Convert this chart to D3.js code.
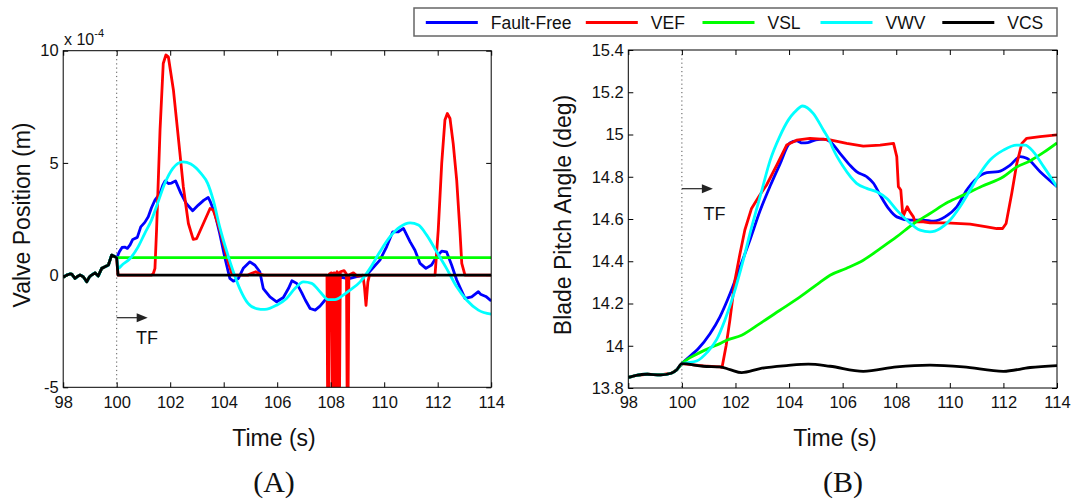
<!DOCTYPE html>
<html><head><meta charset="utf-8">
<script src="https://cdn.jsdelivr.net/npm/d3@7"></script>
<style>
body{margin:0;background:#fff}
text{font-family:"Liberation Sans",Arial,Helvetica,sans-serif;fill:#111}
</style>
</head><body>
<svg id="chart" width="1073" height="500"></svg>
<script>
// ---------------- data ----------------
const seriesNames  = ["Fault-Free","VEF","VSL","VWV","VCS"];
const seriesColors = ["#0000ff","#ff0000","#00ff00","#00ffff","#000000"];
const timeTicks    = [98,100,102,104,106,108,110,112,114];
const valveTicks   = [-5,0,5,10];
const pitchTicks   = [13.8,14,14.2,14.4,14.6,14.8,15,15.2,15.4];
const pitchTickLabels = ["13.8","14","14.2","14.4","14.6","14.8","15","15.2","15.4"];
const faultTime = 100;

// Valve position (x 1e-4 m), shared pre-fault segment
const valvePre = [[98.0,-0.1],[98.13,0.0],[98.25,0.05],[98.32,0.04],[98.44,-0.15],[98.55,-0.05],[98.63,0.0],[98.75,-0.07],[98.88,-0.3],[98.97,-0.1],[99.06,0.0],[99.19,0.1],[99.31,-0.04],[99.44,0.3],[99.56,0.37],[99.69,0.45],[99.81,0.89],[99.94,0.82],[100.0,0.76]];
const valveFaultFree = [[100.02,0.82],[100.1,1.04],[100.2,1.23],[100.3,1.25],[100.4,1.19],[100.5,1.35],[100.6,1.59],[100.77,1.68],[100.9,2.15],[101.05,2.35],[101.18,2.6],[101.3,3.0],[101.43,3.34],[101.62,3.64],[101.72,4.0],[101.81,4.2],[101.93,4.08],[102.05,4.1],[102.2,4.2],[102.4,3.64],[102.6,3.19],[102.84,2.87],[103.05,3.12],[103.26,3.34],[103.42,3.46],[103.49,3.3],[103.67,2.75],[103.85,1.86],[104.05,0.74],[104.23,-0.15],[104.36,-0.27],[104.55,-0.15],[104.73,0.3],[104.98,0.59],[105.17,0.44],[105.35,0.15],[105.48,-0.6],[105.73,-0.97],[105.98,-1.19],[106.23,-1.0],[106.42,-0.6],[106.55,-0.25],[106.73,-0.37],[106.92,-0.79],[107.05,-1.11],[107.23,-1.49],[107.42,-1.56],[107.6,-1.38],[107.79,-1.11],[108.04,-0.67],[108.23,-0.22],[108.41,-0.1],[108.6,-0.15],[108.72,-0.15],[108.97,-0.07],[109.34,0.0],[109.59,0.34],[109.84,0.67],[110.09,1.26],[110.32,1.93],[110.53,1.93],[110.72,2.08],[110.97,1.48],[111.15,1.11],[111.34,0.52],[111.56,0.3],[111.77,0.45],[111.96,0.82],[112.15,1.07],[112.33,1.04],[112.52,0.45],[112.71,-0.22],[113.02,-1.04],[113.27,-0.97],[113.52,-0.74],[113.6,-0.85],[113.8,-0.95],[114.0,-1.15]];
const valveVEF = [[100.05,0],[101.3,0],[101.37,0.07],[101.43,0.3],[101.49,2.0],[101.62,6.46],[101.74,9.43],[101.84,9.81],[101.93,9.73],[102.12,8.25],[102.3,6.17],[102.49,3.94],[102.68,2.3],[102.86,1.59],[102.99,1.63],[103.24,2.3],[103.49,2.97],[103.61,2.9],[103.86,2.0],[104.11,0.82],[104.3,0.07],[104.4,0],[104.9,0],[105.05,0.08],[105.2,0.15],[105.35,0.05],[105.5,0],[107.86,0],[107.9,-9],[107.95,0.05],[108.03,0.1],[108.07,-9],[108.12,0.1],[108.15,0.1],[108.19,-9],[108.24,0.15],[108.27,0.1],[108.31,-9],[108.36,0.15],[108.5,0.2],[108.59,0.05],[108.63,-9],[108.68,0],[108.85,0.1],[109.0,-0.05],[109.2,0],[109.26,-0.5],[109.32,-1.35],[109.39,-0.3],[109.45,0],[111.9,0],[112.02,2.0],[112.15,4.98],[112.27,6.91],[112.36,7.2],[112.46,6.98],[112.58,5.86],[112.71,4.23],[112.83,2.0],[112.9,0.52],[113.02,0],[114,0]];
const valveVSL = [[100.02,0.78],[114,0.78]];
const valveVWV = [[100.07,0.3],[100.2,0.45],[100.5,0.74],[100.8,1.26],[101.05,1.86],[101.3,2.45],[101.55,3.27],[101.8,4.09],[102.1,4.76],[102.47,5.05],[102.77,4.95],[103.15,4.53],[103.4,4.09],[103.61,3.34],[103.85,2.15],[104.1,1.11],[104.36,0.15],[104.6,-0.6],[104.91,-1.26],[105.22,-1.49],[105.54,-1.53],[105.98,-1.34],[106.35,-1.04],[106.66,-0.6],[106.98,-0.3],[107.29,-0.37],[107.6,-0.74],[107.91,-1.09],[108.16,-1.09],[108.47,-0.89],[108.72,-0.67],[109.1,-0.3],[109.47,0.3],[109.84,1.04],[110.22,1.71],[110.59,2.15],[110.97,2.33],[111.28,2.23],[111.59,1.78],[111.96,1.04],[112.33,0.3],[112.71,-0.52],[113.08,-1.11],[113.52,-1.56],[114,-1.74]];
const valveVCS = [[100.05,0],[114,0]];

// Blade pitch angle (deg), shared pre-fault segment
const pitchPre = [[98,13.85],[98.15,13.855],[98.3,13.86],[98.7,13.865],[99.2,13.862],[99.6,13.87],[99.8,13.885],[100,13.915]];
const pitchFaultFree = [[100.3,13.95],[100.6,13.985],[101.05,14.057],[101.42,14.137],[101.8,14.247],[102.17,14.373],[102.54,14.5],[102.92,14.64],[103.29,14.755],[103.66,14.86],[104.03,14.96],[104.28,14.97],[104.5,14.96],[104.7,14.962],[105.0,14.975],[105.3,14.978],[105.53,14.966],[105.9,14.911],[106.27,14.855],[106.52,14.824],[106.9,14.8],[107.15,14.769],[107.4,14.713],[107.71,14.65],[108.02,14.61],[108.52,14.595],[109.01,14.595],[109.39,14.59],[109.82,14.61],[110.26,14.658],[110.63,14.737],[111.0,14.792],[111.38,14.819],[111.81,14.824],[112.25,14.855],[112.63,14.895],[112.87,14.887],[113.37,14.824],[114,14.753]];
const pitchVEF = [[100.8,13.905],[101.42,13.9],[101.5,13.898],[101.65,14.0],[101.79,14.12],[101.98,14.31],[102.17,14.437],[102.35,14.548],[102.6,14.65],[102.91,14.714],[103.16,14.761],[103.54,14.855],[103.91,14.95],[104.28,14.973],[104.78,14.982],[105.2,14.978],[105.53,14.974],[106.15,14.958],[106.77,14.945],[107.4,14.95],[107.9,14.958],[108.02,14.895],[108.08,14.753],[108.17,14.737],[108.25,14.61],[108.33,14.634],[108.41,14.658],[108.51,14.634],[108.64,14.61],[108.7,14.587],[109.01,14.587],[109.26,14.582],[109.88,14.582],[110.76,14.576],[111.38,14.563],[111.75,14.555],[111.97,14.555],[112.1,14.579],[112.31,14.721],[112.5,14.863],[112.69,14.958],[112.87,14.982],[113.37,14.99],[114,14.998]];
const pitchVSL = [[100.55,13.96],[101.05,13.99],[101.42,14.01],[101.67,14.026],[102.23,14.05],[102.91,14.105],[103.66,14.168],[104.41,14.231],[105.15,14.3],[105.53,14.334],[106.13,14.366],[106.77,14.405],[107.4,14.46],[108.01,14.515],[108.67,14.58],[109.26,14.626],[109.94,14.68],[110.5,14.713],[111.2,14.755],[112.0,14.8],[112.48,14.845],[112.99,14.875],[113.5,14.915],[114,14.96]];
const pitchVWV = [[100.18,13.919],[100.55,13.928],[100.95,13.97],[101.3,14.03],[101.6,14.12],[101.95,14.25],[102.3,14.41],[102.6,14.56],[102.95,14.72],[103.3,14.88],[103.65,14.99],[103.97,15.068],[104.2,15.105],[104.51,15.135],[104.9,15.1],[105.28,15.021],[105.53,14.966],[105.65,14.93],[106.02,14.848],[106.52,14.769],[106.9,14.745],[107.27,14.729],[107.65,14.697],[108.02,14.642],[108.39,14.595],[108.89,14.547],[109.26,14.539],[109.64,14.555],[110.01,14.595],[110.38,14.658],[110.76,14.737],[111.13,14.816],[111.5,14.879],[112.0,14.926],[112.49,14.95],[112.81,14.95],[113.12,14.918],[113.5,14.848],[114,14.753]];
const pitchVCS = [[100.8,13.903],[101.42,13.9],[101.8,13.887],[102.23,13.873],[102.92,13.892],[103.91,13.906],[104.72,13.913],[105.53,13.903],[106.77,13.879],[108.02,13.9],[109.26,13.908],[110.5,13.9],[112.0,13.879],[113.0,13.897],[114,13.906]];

// ---------------- drawing ----------------
const svg = d3.select("#chart");
svg.append("rect").attr("width",1073).attr("height",500).attr("fill","#fff");

function panel(cfg){
  const x = d3.scaleLinear().domain([98,114]).range([cfg.x0,cfg.x1]);
  const y = d3.scaleLinear().domain(cfg.yDomain).range([cfg.y0,cfg.y1]);
  const g = svg.append("g");
  const clipId = "clip"+cfg.id;
  svg.append("defs").append("clipPath").attr("id",clipId)
    .append("rect").attr("x",cfg.x0).attr("y",cfg.y1).attr("width",cfg.x1-cfg.x0).attr("height",cfg.y0-cfg.y1);

  // fault time dotted line
  g.append("line").attr("x1",x(faultTime)).attr("x2",x(faultTime))
    .attr("y1",cfg.y1).attr("y2",cfg.y0)
    .attr("stroke","#555").attr("stroke-width",1).attr("stroke-dasharray","1.2,3");

  // series
  const lines = g.append("g").attr("clip-path",`url(#${clipId})`);
  cfg.series.forEach((s,i)=>{
    const gen = d3.line().x(d=>x(d[0])).y(d=>y(d[1]))
      .curve(cfg.smooth[i] ? d3.curveMonotoneX : d3.curveLinear);
    lines.append("path").datum(cfg.pre.concat(s))
      .attr("fill","none").attr("stroke",seriesColors[i])
      .attr("stroke-width",2.8).attr("stroke-linejoin","round")
      .attr("d",gen);
  });

  // axes
  const fs = "16.5px";
  const bx = g.append("g").attr("transform",`translate(0,${cfg.y0})`)
    .call(d3.axisBottom(x).tickValues(timeTicks).tickSize(-5).tickPadding(8.5).tickFormat(d3.format("d")));
  const tx = g.append("g").attr("transform",`translate(0,${cfg.y1})`)
    .call(d3.axisTop(x).tickValues(timeTicks).tickSize(-5).tickFormat(""));
  const ly = g.append("g").attr("transform",`translate(${cfg.x0},0)`)
    .call(d3.axisLeft(y).tickValues(cfg.yTicks).tickSize(-5).tickPadding(4.5).tickFormat((d,i)=>cfg.yLabels[i]));
  const ry = g.append("g").attr("transform",`translate(${cfg.x1},0)`)
    .call(d3.axisRight(y).tickValues(cfg.yTicks).tickSize(-5).tickFormat(""));
  [bx,tx,ly,ry].forEach(a=>{
    a.select(".domain").remove();
    a.selectAll("line").attr("stroke","#000");
    a.selectAll("text").attr("font-size",fs).attr("fill","#000")
      .attr("font-family",'"Liberation Sans",Arial,sans-serif');
  });
  g.append("rect").attr("x",cfg.x0).attr("y",cfg.y1).attr("width",cfg.x1-cfg.x0).attr("height",cfg.y0-cfg.y1)
    .attr("fill","none").attr("stroke","#000").attr("stroke-width",1);

  // labels
  g.append("text").attr("x",cfg.xLabelX).attr("y",446).attr("text-anchor","middle")
    .attr("font-size","23px").text("Time (s)");
  g.append("text").attr("transform",`translate(${cfg.yLabelX},${215}) rotate(-90)`)
    .attr("text-anchor","middle").attr("font-size","23px").text(cfg.yLabel);
  g.append("text").attr("x",cfg.capX).attr("y",491.5).attr("text-anchor","middle")
    .attr("font-size","30px").style("font-family",'"Liberation Serif","Times New Roman",serif')
    .text(cfg.caption);

  // TF arrow
  const ax0 = x(faultTime), ax1 = ax0 + 31, ay = cfg.arrowY;
  g.append("line").attr("x1",ax0).attr("x2",ax1-8).attr("y1",ay).attr("y2",ay)
    .attr("stroke","#222").attr("stroke-width",1.2);
  g.append("path").attr("d",`M${ax1},${ay} L${ax1-11},${ay-4.5} L${ax1-11},${ay+4.5} Z`).attr("fill","#222");
  g.append("text").attr("x",cfg.tfX).attr("y",cfg.tfY).attr("font-size","18px").attr("fill","#222").text("TF");
  return {x,y};
}

panel({id:"A", x0:63.2, x1:491.2, y0:387.3, y1:50.7, yDomain:[-5,10],
  yTicks:valveTicks, yLabels:valveTicks.map(String),
  pre:valvePre, series:[valveFaultFree,valveVEF,valveVSL,valveVWV,valveVCS],
  smooth:[false,false,false,true,false],
  yLabel:"Valve Position (m)", yLabelX:29.5, xLabelX:274, capX:274, caption:"(A)",
  arrowY:317.7, tfX:136, tfY:344});

panel({id:"B", x0:628.3, x1:1057, y0:388, y1:50, yDomain:[13.8,15.4],
  yTicks:pitchTicks, yLabels:pitchTickLabels,
  pre:pitchPre, series:[pitchFaultFree,pitchVEF,pitchVSL,pitchVWV,pitchVCS],
  smooth:[true,false,true,true,true],
  yLabel:"Blade Pitch Angle (deg)", yLabelX:571, xLabelX:835, capX:843, caption:"(B)",
  arrowY:188.7, tfX:703.5, tfY:220});

// x 10^-4 multiplier
const mult = svg.append("text").attr("x",64).attr("y",45).attr("font-size","16px");
mult.append("tspan").text("x 10");
mult.append("tspan").attr("font-size","11px").attr("dy",-8).text("-4");

// legend
const legendLineX = [425.8,585.8,702.5,820.5,942.3];
const lg = svg.append("g");
lg.append("rect").attr("x",414).attr("y",8).attr("width",643).attr("height",28)
  .attr("fill","#fff").attr("stroke","#666").attr("stroke-width",1.5);
seriesNames.forEach((n,i)=>{
  lg.append("line").attr("x1",legendLineX[i]).attr("x2",legendLineX[i]+52)
    .attr("y1",22.5).attr("y2",22.5).attr("stroke",seriesColors[i]).attr("stroke-width",3);
  lg.append("text").attr("x",legendLineX[i]+65).attr("y",28.7).attr("font-size","17.5px").text(n);
});
</script>
</body></html>
